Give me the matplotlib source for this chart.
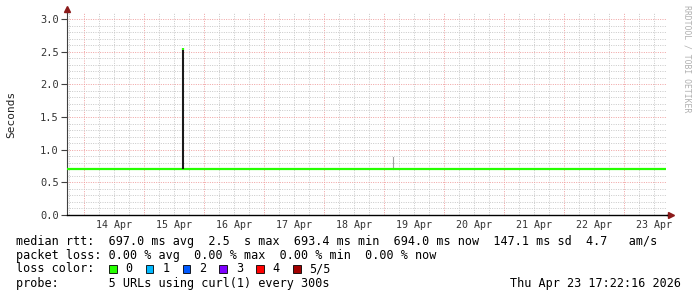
import matplotlib.pyplot as plt
import matplotlib.dates as mdates
from matplotlib.patches import Rectangle
from datetime import datetime, timedelta

# data
t_start = datetime(2026, 4, 13, 17, 22, 16)
t_end = datetime(2026, 4, 23, 17, 22, 16)

median_times = [datetime(2026, 4, 13, 17, 22), datetime(2026, 4, 23, 17, 0)]
median_values = [0.697, 0.697]

spike_time = datetime(2026, 4, 15, 15, 35)
spike_low = 0.70
spike_high = 2.55

smoke_time = datetime(2026, 4, 19, 3, 50)
smoke_low = 0.70
smoke_high = 0.89

day_labels = ["14 Apr", "15 Apr", "16 Apr", "17 Apr", "18 Apr",
              "19 Apr", "20 Apr", "21 Apr", "22 Apr", "23 Apr"]
day_dates = [datetime(2026, 4, 14 + i) for i in range(len(day_labels))]

y_ticks = [0.0, 0.5, 1.0, 1.5, 2.0, 2.5, 3.0]

legend_lines = [
    "median rtt:  697.0 ms avg  2.5  s max  693.4 ms min  694.0 ms now  147.1 ms sd  4.7   am/s",
    "packet loss: 0.00 % avg  0.00 % max  0.00 % min  0.00 % now",
]
loss_labels = ["0", "1", "2", "3", "4", "5/5"]
loss_colors = ["#26ff00", "#00b8ff", "#0059ff", "#7e00ff", "#ff0000", "#a10000"]
probe_text = "probe:       5 URLs using curl(1) every 300s"
stamp_text = "Thu Apr 23 17:22:16 2026"

W, H = 697, 297
mono = "DejaVu Sans Mono"


def fx(x):
    return x / W


def fy(y):
    return 1 - y / H


fig = plt.figure(figsize=(W / 100, H / 100), dpi=100)
fig.patch.set_facecolor("white")

left, right, top, bottom = 67, 667, 13, 215
ax = fig.add_axes([fx(left), fy(bottom), (right - left) / W, (bottom - top) / H])
ax.set_xlim(t_start, t_end)
ax.set_ylim(0, (bottom - top) / 65.33)

# grid
minor_col = "#c8c8c8"
major_col = "#f0a0a0"
dots = (0, (1, 1.4))
t = datetime(2026, 4, 13, 18)
while t < t_end:
    c = major_col if t.hour == 0 else minor_col
    ax.axvline(t, color=c, lw=0.7, ls=dots, zorder=1)
    t += timedelta(hours=6)
for i in range(1, 31):
    v = i / 10
    c = major_col if i % 5 == 0 else minor_col
    ax.axhline(v, color=c, lw=0.7, ls=dots, zorder=1)

# data
ax.plot(median_times, median_values, color=loss_colors[0], lw=1.6, zorder=3,
        solid_capstyle="butt")
ax.plot([spike_time, spike_time], [spike_low, spike_high], color="#1a1a1a",
        lw=1.5, zorder=4, solid_capstyle="butt")
ax.plot([spike_time, spike_time], [spike_high - 0.03, spike_high + 0.01],
        color=loss_colors[0], lw=1.5, zorder=5, solid_capstyle="butt")
ax.plot([smoke_time, smoke_time], [smoke_low, smoke_high], color="#a0a0a0",
        lw=0.8, zorder=2)

# axes
for s in ["top", "right"]:
    ax.spines[s].set_visible(False)
ax.spines["left"].set_color("#404040")
ax.spines["left"].set_linewidth(0.8)
ax.spines["bottom"].set_color("black")
ax.spines["bottom"].set_linewidth(1.0)
ax.plot([0, 0], [1, 1.02], transform=ax.transAxes, color="#404040", lw=0.8,
        clip_on=False)
ax.plot([1, 1.005], [0, 0], transform=ax.transAxes, color="black", lw=1.0,
        clip_on=False)
ax.plot([0], [1.02], marker="^", ms=4, color="#8b1a1a", transform=ax.transAxes,
        clip_on=False)
ax.plot([1.006], [0], marker=">", ms=4, color="#8b1a1a", transform=ax.transAxes,
        clip_on=False)

ax.set_yticks(y_ticks)
ax.set_yticklabels([f"{v:.1f}" for v in y_ticks], fontfamily=mono, fontsize=7.5,
                   color="#333333")
ax.tick_params(axis="y", length=4, width=0.8, pad=2, color="#404040")
ax.set_xticks([mdates.date2num(d + timedelta(hours=12)) for d in day_dates])
ax.set_xticklabels(day_labels, fontfamily=mono, fontsize=7.2, color="#333333")
ax.tick_params(axis="x", length=0, pad=3.5)

fig.text(fx(11), fy(114), "Seconds", rotation=90, ha="center", va="center",
         fontfamily=mono, fontsize=8, color="#222222")
fig.text(fx(687), fy(5), "RRDTOOL / TOBI OETIKER", rotation=270, ha="center",
         va="top", fontfamily=mono, fontsize=5.9, color="#b0b0b0")

# legend
fs = 8.5
fig.text(fx(16), fy(241), legend_lines[0], ha="left", va="center",
         fontfamily=mono, fontsize=fs)
fig.text(fx(16), fy(255), legend_lines[1], ha="left", va="center",
         fontfamily=mono, fontsize=fs)
fig.text(fx(16), fy(269), "loss color:", ha="left", va="center",
         fontfamily=mono, fontsize=fs)
for i, (lab, col) in enumerate(zip(loss_labels, loss_colors)):
    bx = 109 + 36.8 * i
    fig.patches.append(Rectangle((fx(bx), fy(272.5)), 7.5 / W, 7.5 / H,
                                 transform=fig.transFigure,
                                 facecolor=col, edgecolor="black", lw=0.6))
    fig.text(fx(bx + 16.5), fy(269), lab, ha="left", va="center",
             fontfamily=mono, fontsize=fs)
fig.text(fx(16), fy(283), probe_text, ha="left", va="center",
         fontfamily=mono, fontsize=fs)
fig.text(fx(681), fy(283), stamp_text, ha="right", va="center",
         fontfamily=mono, fontsize=fs)

fig.savefig("out.png", dpi=100)
